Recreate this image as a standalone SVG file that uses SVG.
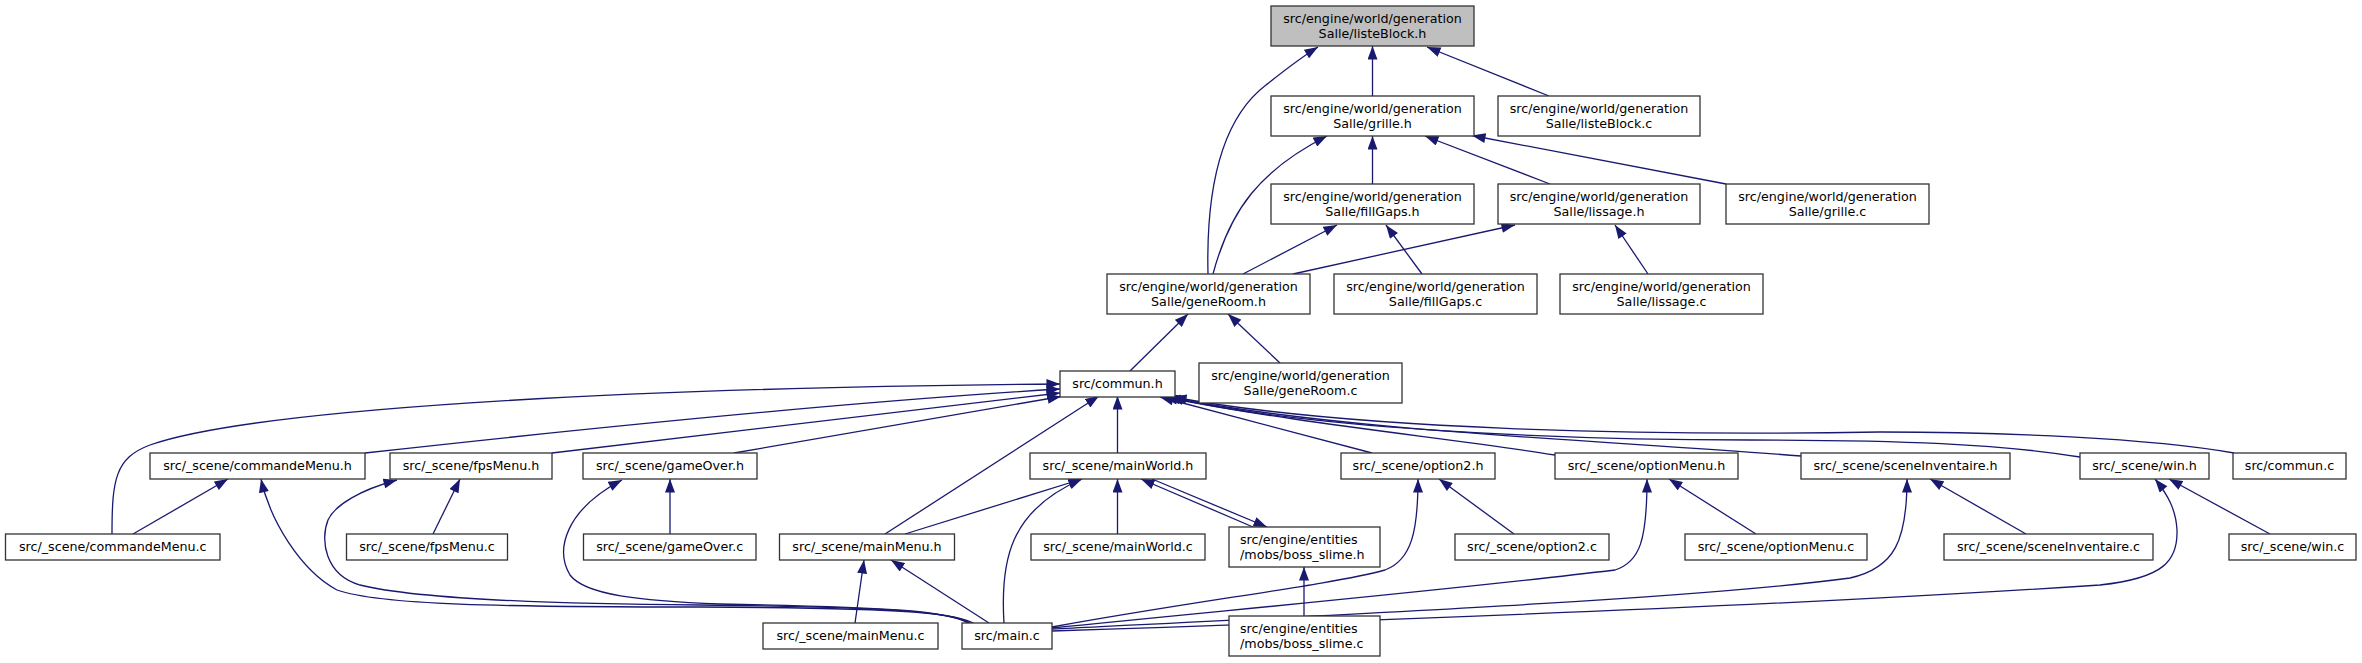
<svg xmlns="http://www.w3.org/2000/svg" width="2362" height="663" viewBox="0 0 2362 663">
<style>
.node rect{fill:#ffffff;stroke:#333333;stroke-width:1.3}
.node.root rect{fill:#bfbfbf}
.node text{font-family:"DejaVu Sans","Liberation Sans",sans-serif;font-size:12.7px;fill:#000000;text-anchor:middle}
.node text.l{text-anchor:start}
.edges path{fill:none;stroke:#191970;stroke-width:1.3;marker-end:url(#arr)}
</style>
<defs>
<marker id="arr" markerUnits="userSpaceOnUse" markerWidth="14" markerHeight="10" viewBox="0 0 13.5 10" refX="13.5" refY="5" orient="auto">
<path d="M0,0 L13.5,5 L0,10 Z" fill="#191970"/>
</marker>
</defs>
<rect x="0" y="0" width="2362" height="663" fill="#ffffff"/>
<g id="edges" class="edges">
<path d="M1372.5,96 L1372.5,46"/>
<path d="M1208,274 C1206,190 1220,120 1266,85 C1285,70 1300,58 1318,47"/>
<path d="M1549,96 L1427,47"/>
<path d="M1372.5,184 L1372.5,136"/>
<path d="M1213,274 C1230,210 1260,170 1327,136"/>
<path d="M1550,184 L1425,136"/>
<path d="M1726,184 L1472,135.5"/>
<path d="M1243,274 L1337,225"/>
<path d="M1422,274 L1386,225"/>
<path d="M1293,274 L1515,225"/>
<path d="M1648,274 L1615,225"/>
<path d="M1130,371 L1188,314"/>
<path d="M1280,363 L1228,314"/>
<path d="M112,534 C112,480 115,458 150,445 C250,410 600,388 1060,384"/>
<path d="M365,453 C500,438 800,405 1060,389"/>
<path d="M552,453 L1060,393"/>
<path d="M734,453 L1061,396.5"/>
<path d="M885,534 L1099,396"/>
<path d="M1117.5,453 L1117.5,396"/>
<path d="M1372,453 L1160,397"/>
<path d="M1555,455 C1450,438 1300,424 1164,397"/>
<path d="M1801,456 C1600,440 1350,432 1167,397"/>
<path d="M2080,457 C2000,444 1900,440 1750,440 C1550,440 1300,428 1170,397"/>
<path d="M2234,453 C2150,438 2000,432 1880,432 C1650,436 1350,430 1173,397"/>
<path d="M133,534 L228,479"/>
<path d="M975,624 C958,614 920,608 700,607 C500,607 380,605 337,590 C300,570 270,520 261,479"/>
<path d="M968,623 C950,612 900,607 700,605 C560,604 420,600 360,585 C325,575 320,540 328,520 C335,505 360,490 397,480"/>
<path d="M433,534 L460,479"/>
<path d="M970,623 C950,612 900,607 720,604 C640,601 585,595 570,575 C555,550 565,510 622,480"/>
<path d="M670,534 L670,479"/>
<path d="M905,534 L1082,479"/>
<path d="M1004,623 C1000,560 1010,510 1082,479"/>
<path d="M1117.5,534 L1117.5,479"/>
<path d="M1253,527 L1141,479"/>
<path d="M1152,479 L1267,527"/>
<path d="M855,623 L864,560"/>
<path d="M989,623 L891,560"/>
<path d="M1304,616 L1304,567"/>
<path d="M1052,627 C1200,600 1330,585 1385,570 C1412,560 1418,530 1418,479"/>
<path d="M1514,534 L1439,479"/>
<path d="M1052,628 C1250,608 1450,590 1615,570 C1640,562 1647,540 1647,479"/>
<path d="M1756,534 L1669,479"/>
<path d="M1052,629 C1400,612 1700,598 1850,578 C1895,568 1907,540 1907,479"/>
<path d="M2026,534 L1930,479"/>
<path d="M1052,631 C1400,620 1800,605 2100,585 C2165,578 2178,560 2177,530 C2176,510 2168,495 2155,479"/>
<path d="M2270,534 L2169,479"/>
</g>
<g id="n_listeBlock_h" class="node root"><rect x="1271" y="6" width="203" height="40"/><text x="1372.5" y="22.5">src/engine/world/generation</text><text x="1372.5" y="37.5">Salle/listeBlock.h</text></g>
<g id="n_grille_h" class="node"><rect x="1271" y="96" width="203" height="40"/><text x="1372.5" y="112.5">src/engine/world/generation</text><text x="1372.5" y="127.5">Salle/grille.h</text></g>
<g id="n_listeBlock_c" class="node"><rect x="1498" y="96" width="202" height="40"/><text x="1599" y="112.5">src/engine/world/generation</text><text x="1599" y="127.5">Salle/listeBlock.c</text></g>
<g id="n_fillGaps_h" class="node"><rect x="1271" y="184" width="203" height="40"/><text x="1372.5" y="200.5">src/engine/world/generation</text><text x="1372.5" y="215.5">Salle/fillGaps.h</text></g>
<g id="n_lissage_h" class="node"><rect x="1498" y="184" width="202" height="40"/><text x="1599" y="200.5">src/engine/world/generation</text><text x="1599" y="215.5">Salle/lissage.h</text></g>
<g id="n_grille_c" class="node"><rect x="1726" y="184" width="203" height="40"/><text x="1827.5" y="200.5">src/engine/world/generation</text><text x="1827.5" y="215.5">Salle/grille.c</text></g>
<g id="n_geneRoom_h" class="node"><rect x="1107" y="274" width="203" height="40"/><text x="1208.5" y="290.5">src/engine/world/generation</text><text x="1208.5" y="305.5">Salle/geneRoom.h</text></g>
<g id="n_fillGaps_c" class="node"><rect x="1334" y="274" width="203" height="40"/><text x="1435.5" y="290.5">src/engine/world/generation</text><text x="1435.5" y="305.5">Salle/fillGaps.c</text></g>
<g id="n_lissage_c" class="node"><rect x="1560" y="274" width="203" height="40"/><text x="1661.5" y="290.5">src/engine/world/generation</text><text x="1661.5" y="305.5">Salle/lissage.c</text></g>
<g id="n_commun_h" class="node"><rect x="1060" y="371" width="115" height="26"/><text x="1117.5" y="388">src/commun.h</text></g>
<g id="n_geneRoom_c" class="node"><rect x="1199" y="363" width="203" height="40"/><text x="1300.5" y="379.5">src/engine/world/generation</text><text x="1300.5" y="394.5">Salle/geneRoom.c</text></g>
<g id="n_commandeMenu_h" class="node"><rect x="150" y="453" width="215" height="26"/><text x="257.5" y="470">src/_scene/commandeMenu.h</text></g>
<g id="n_fpsMenu_h" class="node"><rect x="390" y="453" width="162" height="26"/><text x="471" y="470">src/_scene/fpsMenu.h</text></g>
<g id="n_gameOver_h" class="node"><rect x="583" y="453" width="174" height="26"/><text x="670" y="470">src/_scene/gameOver.h</text></g>
<g id="n_mainWorld_h" class="node"><rect x="1030" y="453" width="176" height="26"/><text x="1118" y="470">src/_scene/mainWorld.h</text></g>
<g id="n_option2_h" class="node"><rect x="1341" y="453" width="154" height="26"/><text x="1418" y="470">src/_scene/option2.h</text></g>
<g id="n_optionMenu_h" class="node"><rect x="1555" y="453" width="183" height="26"/><text x="1646.5" y="470">src/_scene/optionMenu.h</text></g>
<g id="n_sceneInventaire_h" class="node"><rect x="1801" y="453" width="209" height="26"/><text x="1905.5" y="470">src/_scene/sceneInventaire.h</text></g>
<g id="n_win_h" class="node"><rect x="2080" y="453" width="129" height="26"/><text x="2144.5" y="470">src/_scene/win.h</text></g>
<g id="n_commun_c" class="node"><rect x="2233" y="453" width="113" height="26"/><text x="2289.5" y="470">src/commun.c</text></g>
<g id="n_commandeMenu_c" class="node"><rect x="5.5" y="534" width="214.5" height="26"/><text x="112.75" y="551">src/_scene/commandeMenu.c</text></g>
<g id="n_fpsMenu_c" class="node"><rect x="346.5" y="534" width="161" height="26"/><text x="427" y="551">src/_scene/fpsMenu.c</text></g>
<g id="n_gameOver_c" class="node"><rect x="583.5" y="534" width="172.5" height="26"/><text x="669.75" y="551">src/_scene/gameOver.c</text></g>
<g id="n_mainMenu_h" class="node"><rect x="779.5" y="534" width="175" height="26"/><text x="867" y="551">src/_scene/mainMenu.h</text></g>
<g id="n_mainWorld_c" class="node"><rect x="1031" y="534" width="174" height="26"/><text x="1118" y="551">src/_scene/mainWorld.c</text></g>
<g id="n_boss_slime_h" class="node"><rect x="1229" y="527" width="151" height="40"/><text class="l" x="1240" y="543.5">src/engine/entities</text><text class="l" x="1240" y="558.5">/mobs/boss_slime.h</text></g>
<g id="n_option2_c" class="node"><rect x="1455" y="534" width="154" height="26"/><text x="1532" y="551">src/_scene/option2.c</text></g>
<g id="n_optionMenu_c" class="node"><rect x="1685" y="534" width="182" height="26"/><text x="1776" y="551">src/_scene/optionMenu.c</text></g>
<g id="n_sceneInventaire_c" class="node"><rect x="1944" y="534" width="209" height="26"/><text x="2048.5" y="551">src/_scene/sceneInventaire.c</text></g>
<g id="n_win_c" class="node"><rect x="2229" y="534" width="127" height="26"/><text x="2292.5" y="551">src/_scene/win.c</text></g>
<g id="n_mainMenu_c" class="node"><rect x="763" y="623" width="175" height="26"/><text x="850.5" y="640">src/_scene/mainMenu.c</text></g>
<g id="n_main_c" class="node"><rect x="962" y="623" width="90" height="26"/><text x="1007" y="640">src/main.c</text></g>
<g id="n_boss_slime_c" class="node"><rect x="1229" y="616" width="151" height="40"/><text class="l" x="1240" y="632.5">src/engine/entities</text><text class="l" x="1240" y="647.5">/mobs/boss_slime.c</text></g>
</svg>
